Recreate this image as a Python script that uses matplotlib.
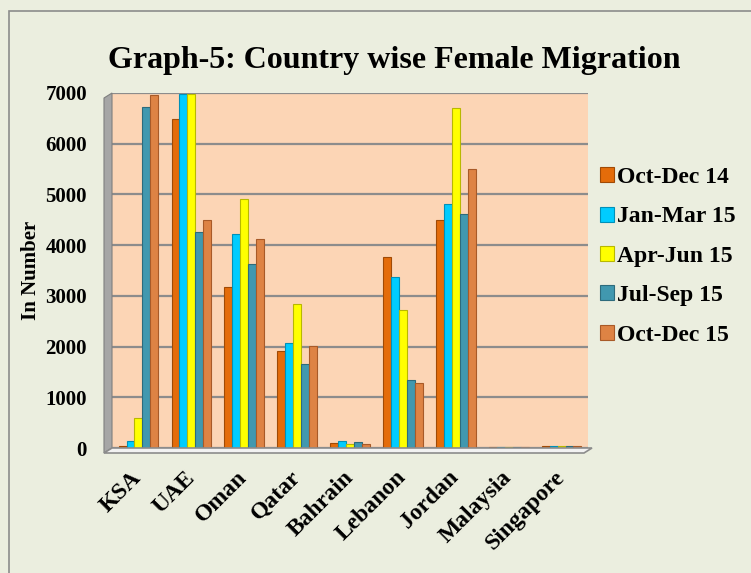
import numpy as np
import matplotlib
matplotlib.use("Agg")
import matplotlib.pyplot as plt
from matplotlib.patches import Rectangle, Polygon

plt.rcParams['font.family'] = ['Liberation Serif', 'DejaVu Serif']
plt.rcParams['font.weight'] = 'bold'

countries = ['KSA', 'UAE', 'Oman', 'Qatar', 'Bahrain', 'Lebanon', 'Jordan', 'Malaysia', 'Singapore']
periods = ['Oct-Dec 14', 'Jan-Mar 15', 'Apr-Jun 15', 'Jul-Sep 15', 'Oct-Dec 15']

oct_dec_14 = [35, 6480, 3180, 1920, 95, 3770, 4500, 20, 45]
jan_mar_15 = [145, 6990, 4220, 2065, 145, 3365, 4810, 15, 30]
apr_jun_15 = [585, 6990, 4910, 2840, 80, 2720, 6700, 12, 35]
jul_sep_15 = [6720, 4250, 3620, 1650, 112, 1340, 4615, 15, 40]
oct_dec_15 = [6960, 4500, 4120, 2020, 88, 1290, 5500, 20, 40]

series = [oct_dec_14, jan_mar_15, apr_jun_15, jul_sep_15, oct_dec_15]
colors = ['#E46C0A', '#00CCFF', '#FFFF00', '#4198AF', '#DE8344']
edges = ['#A04A05', '#0090B8', '#B8B800', '#2D6B7C', '#A85A28']

fig = plt.figure(figsize=(7.51, 5.73), dpi=100)
fig.patch.set_facecolor('#EBEEDF')

# outer frame
fig.add_artist(Rectangle((9 / 751, -0.1), 1.2, 1 - 11 / 573 + 0.1, transform=fig.transFigure,
                         fill=False, edgecolor='#8C8C8C', lw=1.2))

ax = fig.add_axes([112 / 751, 1 - 448 / 573, 476 / 751, 355 / 573])
ax.set_facecolor('#FCD5B5')

x = np.arange(len(countries))
w = 0.15
for i, (vals, c, ec) in enumerate(zip(series, colors, edges)):
    ax.bar(x + (i - 2) * w, vals, w, color=c, edgecolor=ec, linewidth=0.8,
           label=periods[i], zorder=3)

ax.set_xlim(-0.5, len(countries) - 0.5)
ax.set_ylim(0, 7000)
ax.set_yticks(np.arange(0, 7001, 1000))
ax.yaxis.grid(True, color='#8C8C8C', lw=1.6, zorder=1)
ax.set_axisbelow(True)
ax.tick_params(axis='y', length=0, pad=18, labelsize=15)
ax.tick_params(axis='x', length=0, pad=19, labelsize=17)
ax.set_xticks(x)
ax.set_xticklabels(countries, rotation=45, ha='right', va='center', rotation_mode='anchor')
for s in ax.spines.values():
    s.set_visible(False)

# 3D-ish wall and floor
fig.add_artist(Polygon([(104 / 751, 1 - 98 / 573), (112 / 751, 1 - 93 / 573),
                        (112 / 751, 1 - 448 / 573), (104 / 751, 1 - 453 / 573)],
                       closed=True, transform=fig.transFigure,
                       facecolor='#A6A6A6', edgecolor='#7F7F7F', lw=0.8))
fig.add_artist(Polygon([(104 / 751, 1 - 453 / 573), (112 / 751, 1 - 448 / 573),
                        (592 / 751, 1 - 448 / 573), (584 / 751, 1 - 453 / 573)],
                       closed=True, transform=fig.transFigure,
                       facecolor='#F2F2F2', edgecolor='#8C8C8C', lw=1.2))

ax.set_ylabel('In Number', fontsize=15, fontweight='bold', labelpad=3)
fig.text(0.525, 0.894, 'Graph-5: Country wise Female Migration', ha='center', va='center',
         fontsize=23, fontweight='bold')

ax.legend(loc='center left', bbox_to_anchor=(0.99, 0.54), frameon=False, fontsize=17,
          handlelength=0.6, handleheight=0.6, handletextpad=0.15, labelspacing=0.78,
          borderaxespad=0.3)

fig.savefig('out.png', dpi=100, facecolor=fig.get_facecolor())
